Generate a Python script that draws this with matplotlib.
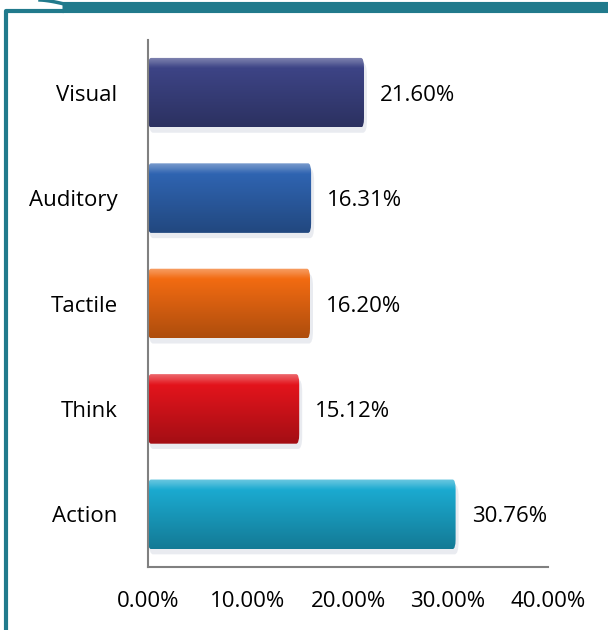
import numpy as np
import matplotlib
matplotlib.use("Agg")
import matplotlib.pyplot as plt
from matplotlib.patches import FancyBboxPatch
from matplotlib.lines import Line2D
import matplotlib.colors as mcolors

# chart data
categories = ["Visual", "Auditory", "Tactile", "Think", "Action"]
values = [21.60, 16.31, 16.20, 15.12, 30.76]
bar_colors = ["#3D4486", "#2F64B1", "#F26B12", "#E3141C", "#1BAAD0"]
x_ticks = [0, 10, 20, 30, 40]

plt.rcParams['font.family'] = ['Open Sans', 'DejaVu Sans']

fig = plt.figure(figsize=(6.08, 6.30), dpi=100)
ax = fig.add_axes([148 / 608, 63 / 630, 400 / 608, 527 / 630])

bar_h = 0.66
ys = np.arange(len(categories))[::-1]

for y, v, c in zip(ys, values, bar_colors):
    base = np.array(mcolors.to_rgb(c))
    # vertical gradient: lighter top, darker bottom
    t = np.linspace(0, 1, 60)[:, None]
    light = base + (1 - base) * 0.35
    dark = base * 0.72
    grad = np.where(t < 0.15, light * (1 - t / 0.15) + base * (t / 0.15),
                    base * (1 - (t - 0.15) / 0.85) + dark * ((t - 0.15) / 0.85))
    img = grad[:, None, :].repeat(2, axis=1)
    patch = FancyBboxPatch((0, y - bar_h / 2), v, bar_h,
                           boxstyle="round,pad=0,rounding_size=0.3",
                           mutation_aspect=0.3,
                           facecolor="none", edgecolor="none")
    ax.add_patch(patch)
    im = ax.imshow(img, extent=(0, v, y - bar_h / 2, y + bar_h / 2),
                   aspect="auto", origin="upper", zorder=2)
    im.set_clip_path(patch)
    # soft reflection under the bar
    ax.add_patch(FancyBboxPatch((0.1, y - bar_h / 2 - 0.05), v + 0.2, bar_h,
                                boxstyle="round,pad=0,rounding_size=0.4",
                                mutation_aspect=0.3,
                                facecolor="#d4d9e3", edgecolor="none",
                                alpha=0.5, zorder=1))
    ax.text(v + 1.6, y, f"{v:.2f}%", va="center_baseline", ha="left", fontsize=16)

ax.set_xlim(0, 40)
ax.set_ylim(-0.5, 4.5)
ax.set_yticks(ys)
ax.set_yticklabels(categories, fontsize=16)
ax.set_xticks(x_ticks)
ax.set_xticklabels([f"{t:.2f}%" for t in x_ticks], fontsize=16)
ax.tick_params(axis="both", length=0)
ax.tick_params(axis="y", pad=22)
ax.tick_params(axis="x", pad=17)
for s in ["top", "right"]:
    ax.spines[s].set_visible(False)
for s in ["left", "bottom"]:
    ax.spines[s].set_color("#808080")
    ax.spines[s].set_linewidth(1.5)

# teal frame
teal = "#217A8C"
fig.add_artist(Line2D([62 / 608, 1], [1 - 6.5 / 630, 1 - 6.5 / 630],
                      transform=fig.transFigure, color=teal, linewidth=8,
                      solid_capstyle="butt"))
fig.add_artist(Line2D([6 / 608, 6 / 608, 64 / 608], [0, 1 - 11 / 630, 1 - 11 / 630],
                      transform=fig.transFigure, color=teal, linewidth=3,
                      solid_capstyle="butt"))
cx = np.linspace(40, 66, 20)
cy = 4.5 * ((cx - 40) / 26) ** 1.5
fig.add_artist(Line2D(cx / 608, 1 - cy / 630,
                      transform=fig.transFigure, color=teal, linewidth=2.5))

fig.savefig("out.png", dpi=100)
